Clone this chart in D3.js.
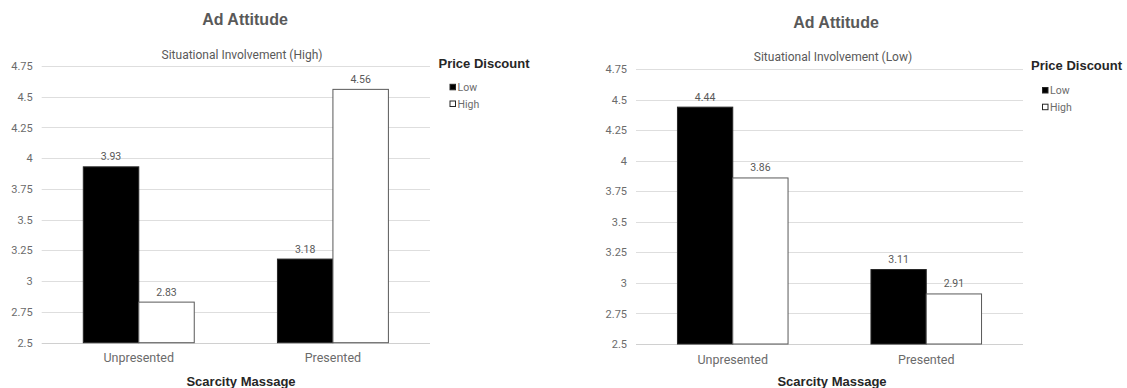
<!DOCTYPE html>
<html>
<head>
<meta charset="utf-8">
<script src="https://cdn.jsdelivr.net/npm/d3@7"></script>
<style>
  body { margin: 0; background: #fff; }
  svg text { font-family: Roboto, "Liberation Sans", sans-serif; }
  .tick_lbl { font-size: 11px; fill: #6b6b6b; }
  .val_lbl { font-size: 10.5px; fill: #595959; }
  .cat_lbl { font-size: 12.5px; fill: #6b6b6b; }
  .ttl { font-family: "Liberation Sans", Arial, sans-serif; font-weight: bold; font-size: 16px; fill: #595959; }
  .sub { font-size: 12px; fill: #595959; }
  .bold_lbl { font-family: "Liberation Sans", Arial, sans-serif; font-weight: bold; font-size: 13px; fill: #262626; }
  .leg_lbl { font-size: 10.5px; fill: #6b6b6b; }
</style>
</head>
<body>
<div id="chart"></div>
<script>

// data
var categories = ["Unpresented", "Presented"];
var discountKeys = ["Low", "High"];
var yTicks = [2.5, 2.75, 3, 3.25, 3.5, 3.75, 4, 4.25, 4.5, 4.75];

var highInvLow = [3.93, 3.18];
var highInvHigh = [2.83, 4.56];
var lowInvLow = [4.44, 3.11];
var lowInvHigh = [3.86, 2.91];

var svg = d3.select("#chart")
  .append("svg")
  .attr("width", 1127)
  .attr("height", 388);

var colors = { Low: "#000000", High: "#ffffff" };

function makeRows(lowVals, highVals) {
  return categories.map(function(c, i) {
    return { cat: c, Low: lowVals[i], High: highVals[i] };
  });
}

// one panel
function drawPanel(rows, opt) {
  var x0 = d3.scaleBand().domain(categories).range([opt.left, opt.right]).padding(0);
  var x1 = d3.scaleBand().domain(discountKeys).range([0, x0.bandwidth()])
    .paddingInner(0).paddingOuter(0.75);
  var y = d3.scaleLinear().domain([2.5, 4.75]).range([opt.bottom, opt.top]);

  var g = svg.append("g");

  // gridlines
  g.selectAll(".grid")
    .data(yTicks)
    .enter().append("line")
    .attr("x1", opt.left)
    .attr("x2", opt.right)
    .attr("y1", function(d) { return Math.round(y(d)) + 0.5; })
    .attr("y2", function(d) { return Math.round(y(d)) + 0.5; })
    .attr("stroke", function(d) { return d == 2.5 ? "#d0d0d0" : "#dedede"; })
    .attr("stroke-width", 1);

  // y axis labels
  var yAxis = d3.axisLeft(y).tickValues(yTicks).tickSize(0).tickPadding(9)
    .tickFormat(function(d) { return String(d); });
  var ya = g.append("g")
    .attr("transform", "translate(" + opt.left + ",0)")
    .call(yAxis);
  ya.select(".domain").remove();
  ya.selectAll("text").attr("class", "tick_lbl").attr("font-family", null).attr("font-size", null).attr("fill", null);

  // bars
  var grp = g.selectAll(".grp")
    .data(rows)
    .enter().append("g")
    .attr("transform", function(d) { return "translate(" + x0(d.cat) + ",0)"; });

  grp.selectAll("rect")
    .data(function(d) { return discountKeys.map(function(k) { return { key: k, value: d[k] }; }); })
    .enter().append("rect")
    .attr("x", function(d) { return x1(d.key); })
    .attr("y", function(d) { return y(d.value); })
    .attr("width", x1.bandwidth())
    .attr("height", function(d) { return y(2.5) - y(d.value); })
    .attr("fill", function(d) { return colors[d.key]; })
    .attr("stroke", function(d) { return d.key == "Low" ? "#262626" : "#595959"; })
    .attr("stroke-width", 1);

  grp.selectAll(".val_lbl")
    .data(function(d) { return discountKeys.map(function(k) { return { key: k, value: d[k] }; }); })
    .enter().append("text")
    .attr("class", "val_lbl")
    .attr("x", function(d) { return x1(d.key) + x1.bandwidth() / 2; })
    .attr("y", function(d) { return y(d.value) - 10; })
    .attr("text-anchor", "middle")
    .attr("dominant-baseline", "central")
    .text(function(d) { return d.value.toFixed(2); });

  // x category labels
  g.selectAll(".cat_lbl")
    .data(categories)
    .enter().append("text")
    .attr("class", "cat_lbl")
    .attr("x", function(d) { return x0(d) + x0.bandwidth() / 2; })
    .attr("y", opt.catY)
    .attr("text-anchor", "middle")
    .attr("dominant-baseline", "central")
    .text(function(d) { return d; });

  // titles
  g.append("text").attr("class", "ttl")
    .attr("x", opt.titleX).attr("y", opt.titleY)
    .attr("text-anchor", "middle").attr("dominant-baseline", "central")
    .text("Ad Attitude");

  g.append("text").attr("class", "sub")
    .attr("x", opt.titleX - 3).attr("y", opt.subY)
    .attr("text-anchor", "middle").attr("dominant-baseline", "central")
    .text(opt.subtitle);

  g.append("text").attr("class", "bold_lbl")
    .attr("x", opt.titleX - 4).attr("y", 381)
    .attr("text-anchor", "middle").attr("dominant-baseline", "central")
    .text("Scarcity Massage");

  // legend
  g.append("text").attr("class", "bold_lbl")
    .attr("x", opt.legX).attr("y", opt.legY)
    .attr("dominant-baseline", "central")
    .text("Price Discount");

  var li = g.selectAll(".leg_item")
    .data(discountKeys)
    .enter().append("g")
    .attr("transform", function(d, i) { return "translate(" + (opt.legX + 11) + "," + (opt.legY + opt.legGap + i * 16.7) + ")"; });

  li.append("rect")
    .attr("x", 0.5).attr("y", -2.5)
    .attr("width", 5.5).attr("height", 5.5)
    .attr("fill", function(d) { return colors[d]; })
    .attr("stroke", "#262626")
    .attr("stroke-width", 1);

  li.append("text").attr("class", "leg_lbl")
    .attr("x", 8).attr("y", 0.5)
    .attr("dominant-baseline", "central")
    .text(function(d) { return d; });
}

drawPanel(makeRows(highInvLow, highInvHigh), {
  left: 41.7, right: 430, top: 66, bottom: 342.7,
  titleX: 245, titleY: 19.5, subY: 55, catY: 357.5,
  subtitle: "Situational Involvement (High)",
  legX: 438.5, legY: 63.5, legGap: 23.3
});

drawPanel(makeRows(lowInvLow, lowInvHigh), {
  left: 636, right: 1023, top: 69.3, bottom: 344,
  titleX: 836, titleY: 22, subY: 57, catY: 359,
  subtitle: "Situational Involvement (Low)",
  legX: 1031, legY: 65, legGap: 25
});

</script>
</body>
</html>
